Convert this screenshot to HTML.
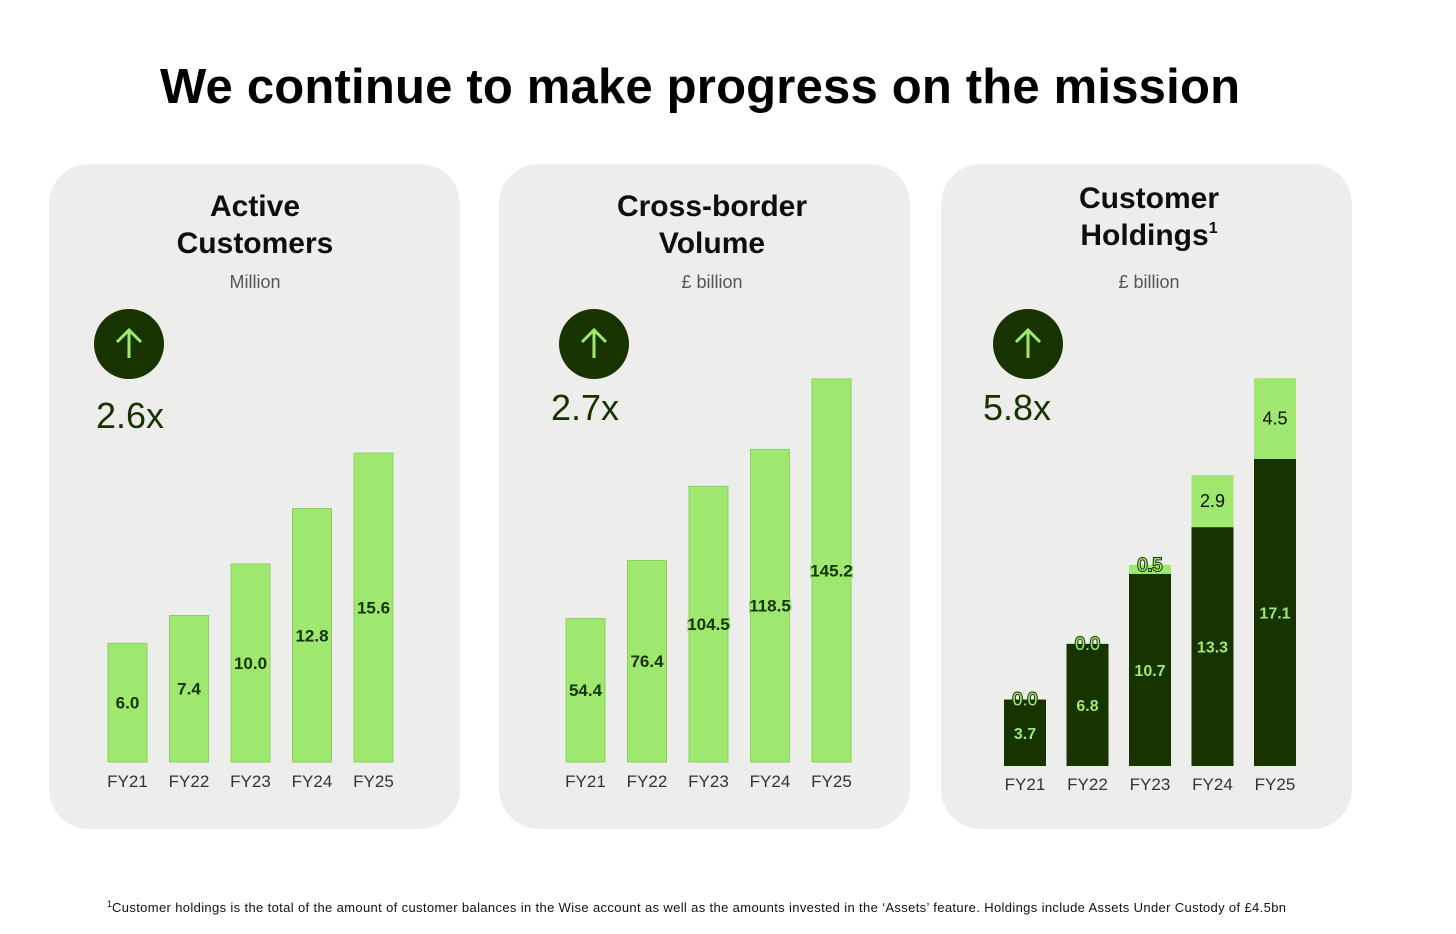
<!DOCTYPE html>
<html><head><meta charset="utf-8"><style>
body{margin:0;background:#fff;font-family:"Liberation Sans",sans-serif;}
svg text{font-family:"Liberation Sans",sans-serif;}
</style></head><body>
<svg width="1456" height="929" viewBox="0 0 1456 929" xmlns="http://www.w3.org/2000/svg">
<text x="700" y="103" text-anchor="middle" font-size="49" font-weight="bold" fill="#000" textLength="1080">We continue to make progress on the mission</text>
<g id="root"></g>
<text x="107" y="912" font-size="13" fill="#111"><tspan font-size="9" dy="-5">1</tspan><tspan dy="5" textLength="1174">Customer holdings is the total of the amount of customer balances in the Wise account as well as the amounts invested in the ‘Assets’ feature. Holdings include Assets Under Custody of £4.5bn</tspan></text>
</svg>
<script>
const categories=["FY21","FY22","FY23","FY24","FY25"];
const customersValues=[6.0,7.4,10.0,12.8,15.6];
const volumeValues=[54.4,76.4,104.5,118.5,145.2];
const holdingsBalances=[3.7,6.8,10.7,13.3,17.1];
const holdingsAssets=[0.0,0.0,0.5,2.9,4.5];
const multipliers=["2.6x","2.7x","5.8x"];
const NS="http://www.w3.org/2000/svg";
const root=document.getElementById('root');
function mk(tag,attrs,parent,text){const e=document.createElementNS(NS,tag);for(const k in attrs)e.setAttribute(k,attrs[k]);if(text!==undefined)e.textContent=text;(parent||root).appendChild(e);return e;}
const DARK="#163300",GREEN="#9fe870";
const panels=[
 {x:49,tc:255,title:["Active","Customers"],ty:205,sub:"Million",mult:0,my:428,base:762,scale:19.8,x0:108,step:61.5,bw:39,lab:781,vals:customersValues,fmt:v=>v.toFixed(1)},
 {x:499,tc:712,title:["Cross-border","Volume"],ty:205,sub:"£ billion",mult:1,my:420,base:762,scale:2.638,x0:566,step:61.5,bw:39,lab:781,vals:volumeValues,fmt:v=>v.toFixed(1)},
 {x:941,tc:1149,title:["Customer","Holdings"],ty:197,sub:"£ billion",mult:2,my:420,base:766,scale:17.96,x0:1004,step:62.5,bw:42,lab:784,stack:true}
];
panels.forEach((p,pi)=>{
 const g=mk('g',{});
 
 
 const bg=mk('rect',{x:p.x,y:164,width:411,height:665,rx:40,fill:"#edeeeb"},g);
 
 
 const cx=p.tc;
 p.title.forEach((t,i)=>{const te=mk('text',{x:cx,y:p.ty+i*37+11,'text-anchor':'middle','font-size':30,'font-weight':'bold',fill:'#0e0f0c'},g,t);
  
  
  if(pi===2&&i===1){mk('tspan',{'font-size':16,dy:-12},te,'1');}
 });
 const st=mk('text',{x:cx,y:288,'text-anchor':'middle','font-size':18,fill:'#555'},g,p.sub);
 
 
 const icx=p.x+(pi===0?80:pi===1?95:87);
 const c=mk('circle',{cx:icx,cy:344,r:35,fill:DARK},g);
 
 
 mk('path',{d:`M${icx} 358 V330 M${icx-12} 342 L${icx} 330 L${icx+12} 342`,stroke:GREEN,'stroke-width':3,fill:'none'},g);
 const mt=mk('text',{x:p.x+(pi===0?47:pi===1?52:42),y:p.my,'font-size':36,fill:DARK},g,multipliers[p.mult]);
 
 
 const Y=v=>p.base-v*p.scale;
 categories.forEach((cat,i)=>{
  const bx=p.x0+i*p.step, mx=bx+p.bw/2;
  if(!p.stack){
   const v=p.vals[i];
   const r=mk('rect',{x:bx,y:Y(v),width:p.bw,height:v*p.scale,fill:GREEN,stroke:'#8ccf62','stroke-width':1},g);
   
   
   const t=mk('text',{x:mx,y:(Y(v)+p.base)/2+6,'text-anchor':'middle','font-size':17,'font-weight':'bold',fill:DARK,stroke:GREEN,'stroke-width':3,'paint-order':'stroke'},g,p.fmt(v));
   
   
  } else {
   const a=holdingsBalances[i], b=holdingsAssets[i];
   const r1=mk('rect',{x:bx,y:Y(a),width:p.bw,height:a*p.scale,fill:DARK},g);
   
   
   const r2=mk('rect',{x:bx,y:Y(a+b),width:p.bw,height:b*p.scale,fill:GREEN},g);
   
   
   const t1=mk('text',{x:mx,y:(Y(a)+p.base)/2+6,'text-anchor':'middle','font-size':16,'font-weight':'bold',fill:GREEN},g,a.toFixed(1));
   
   
   const small=b*p.scale<25;
   const t2=mk('text',{x:mx,y:small?Y(a+b)+6:(Y(a+b)+Y(a))/2+6,'text-anchor':'middle','font-size':18,fill:small?GREEN:'#0e0f0c',stroke:small?DARK:'none','stroke-width':2,'paint-order':'stroke'},g,b.toFixed(1));
   
   
  }
  const xl=mk('text',{x:mx,y:p.lab+6,'text-anchor':'middle','font-size':17,fill:'#333'},g,cat);
  
  
 });
});
</script>
</body></html>
